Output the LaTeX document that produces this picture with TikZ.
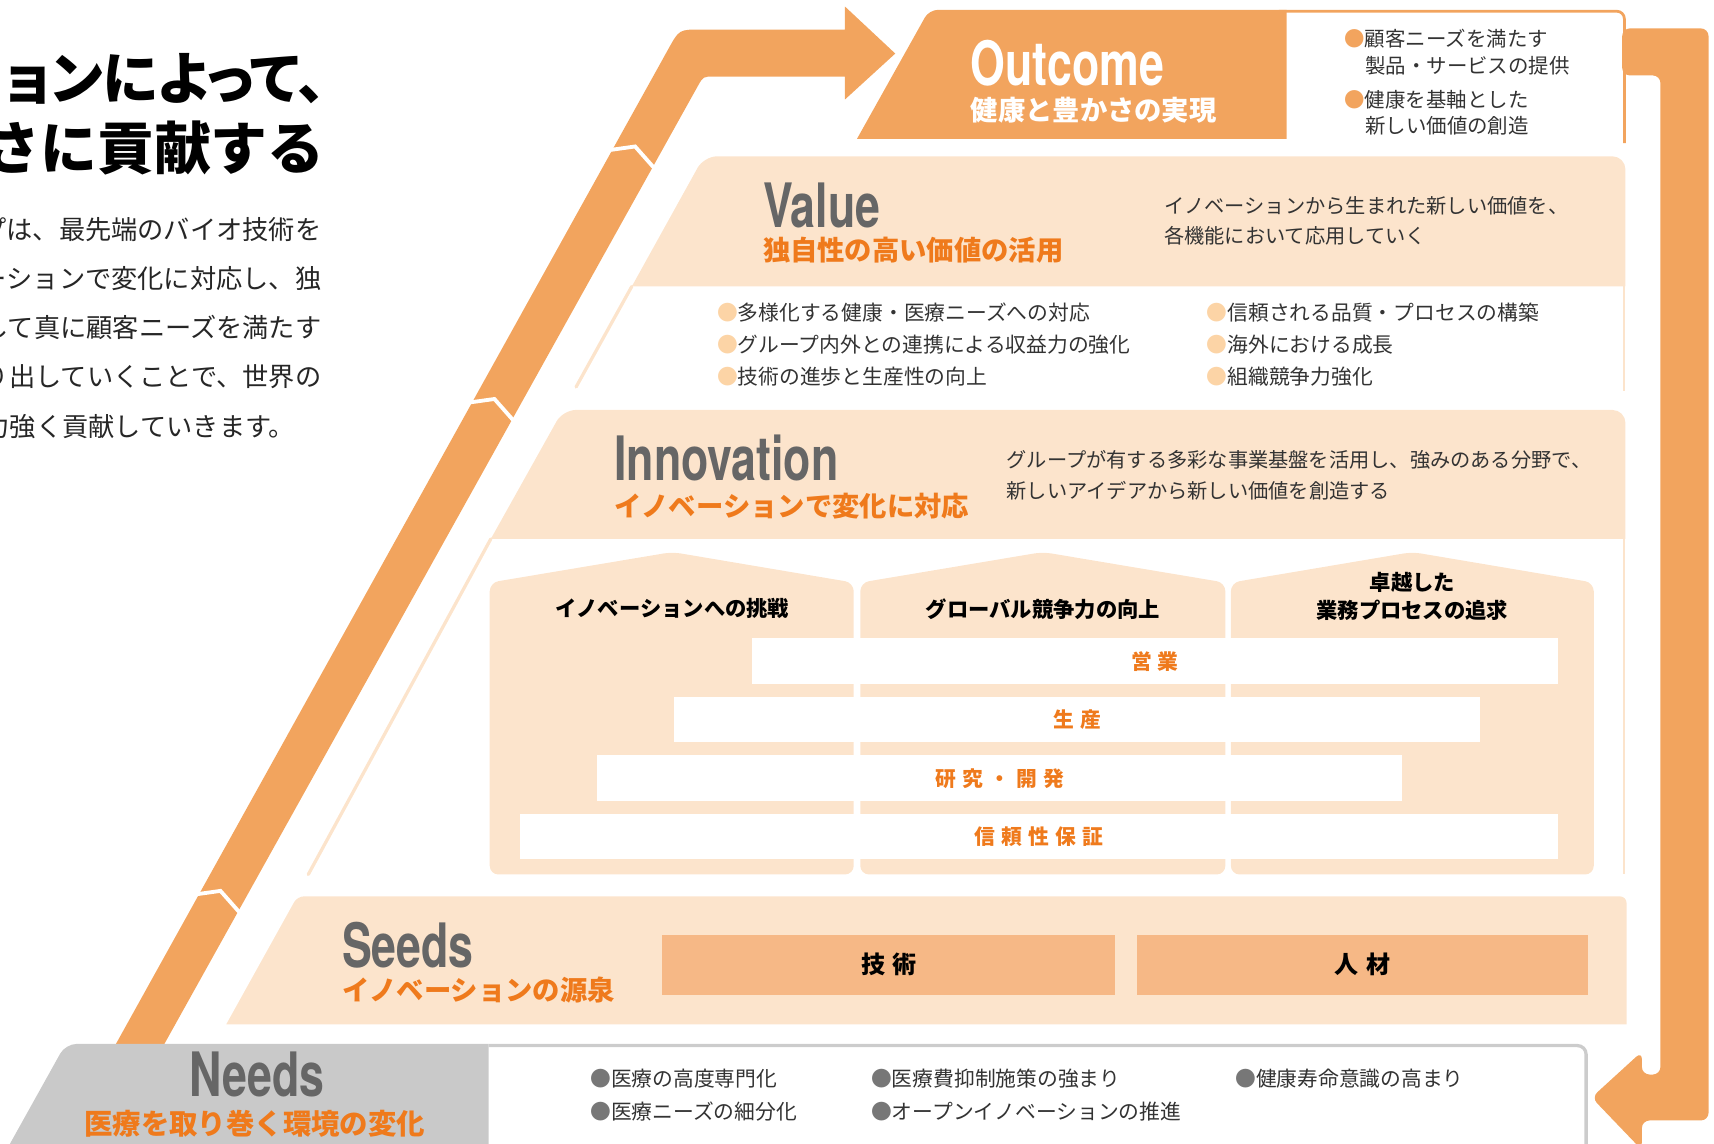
\documentclass[tikz,border=0pt]{standalone}
\usepackage{fontspec}
\setmainfont{Noto Sans CJK JP}
\newfontfamily\jpprop[RawFeature=+palt]{Noto Sans CJK JP}
\newfontfamily\jpwide[LetterSpace=30]{Noto Sans CJK JP}
\newfontfamily\headfont[FakeStretch=0.73]{TeX Gyre Heros}
\usetikzlibrary{positioning}

\definecolor{bandorange}{HTML}{F2A45E}
\definecolor{peach}{HTML}{FCE4CC}
\definecolor{seedfill}{HTML}{F6B886}
\definecolor{suborange}{HTML}{EF7A1C}
\definecolor{headgray}{HTML}{666666}
\definecolor{needfill}{HTML}{C9C9C9}
\definecolor{needline}{HTML}{CCCCCC}
\definecolor{dotpeach}{HTML}{FCD4A6}
\definecolor{dotgray}{HTML}{777777}
\definecolor{inktext}{HTML}{333333}

\newcommand{\setfs}[2]{\fontsize{#1}{#2}\selectfont}

\begin{document}
\begin{tikzpicture}[x=1pt,y=-1pt,inner sep=0pt,outer sep=0pt]
  \tikzstyle{head}=[anchor=base west,font=\headfont\bfseries\setfs{56}{56},text=headgray]
  \tikzstyle{sub}=[anchor=west,font=\bfseries\setfs{25}{25},text=suborange]
  \tikzstyle{desc}=[anchor=west,align=left,font=\setfs{18.5}{28},text=inktext]
  \tikzstyle{item}=[anchor=west,font=\setfs{19}{19},text=inktext]
  \tikzstyle{lead}=[anchor=east,font=\setfs{24}{24},text=black!85]
  \tikzstyle{pillar}=[fill=peach,rounded corners=8pt]
  \tikzstyle{pillartitle}=[align=center,font=\bfseries\setfs{19.5}{25}]
  \tikzstyle{bar}=[fill=white,font=\jpwide\bfseries\setfs{19}{19},text=suborange]
  \tikzstyle{seedbox}=[fill=seedfill,font=\jpwide\bfseries\setfs{22}{22},minimum height=55pt]
  \tikzstyle{notch}=[draw=white,line width=3.5pt]

  \clip (0,0) rectangle (1568,1046);

  % lead text on the left
  \node[anchor=east,font=\jpprop\bfseries\setfs{52}{52}] (title1) at (298,72) {ョンによって、};
  \node[anchor=east,font=\bfseries\setfs{52}{52}] (title2) at (297,135) {さに貢献する};
  \node[lead] (lead1) at (294,210) {プは、最先端のバイオ技術を};
  \node[lead] (lead2) at (294,255) {ーションで変化に対応し、独};
  \node[lead] (lead3) at (294,300) {して真に顧客ニーズを満たす};
  \node[lead] (lead4) at (294,345) {創り出していくことで、世界の};
  \node[lead] (lead5) at (270,390) {力強く貢献していきます。};

  % big arrow: Needs -> Outcome
  \fill[bandorange] (104.4,958) -- (611.6,44.5) .. controls (621.3,27) .. (641.3,27)
    -- (773,27) -- (773,6) -- (819,49) -- (773,91) -- (773,70) -- (653.3,70)
    .. controls (643.3,70) .. (638.4,78.7) -- (148.7,958) -- cycle;
  \draw[notch] (556,137.5) -- (581,134) -- (601,156.6);
  \draw[notch] (427.3,368.5) -- (452.3,365) -- (472.3,387.6);
  \draw[notch] (176.7,818.5) -- (201.7,815) -- (221.7,837.6);

  % arrow back down: Outcome -> Needs
  \fill[bandorange,rounded corners=7pt] (1484,26) -- (1563,26) -- (1563,1025) -- (1502,1025)
    -- (1502,1052) -- (1456,1004) -- (1502,962) -- (1502,983) -- (1519,983)
    -- (1519,69) -- (1484,69) -- cycle;

  % Outcome
  \draw[bandorange,line width=2.5pt,rounded corners=7pt] (1170,10.25) -- (1486,10.25) -- (1486,131);
  \fill[bandorange] (1177,127) -- (784,127) [rounded corners=8pt] -- (850,9) [sharp corners] -- (1177,9) -- cycle;
  \node[head,text=white] (outcome) at (888,78) {Outcome};
  \node[sub,text=white] (outcomesub) at (888,101) {健康と豊かさの実現};
  \node[item,font=\setfs{18.7}{18.7}] (o1) at (1230,35) {\textcolor{bandorange}{●}顧客ニーズを満たす};
  \node[item,font=\setfs{18.7}{18.7}] (o2) at (1249,60) {製品・サービスの提供};
  \node[item,font=\setfs{18.7}{18.7}] (o3) at (1230,91) {\textcolor{bandorange}{●}健康を基軸とした};
  \node[item,font=\setfs{18.7}{18.7}] (o4) at (1249,115) {新しい価値の創造};

  % Value
  \fill[peach] (1487,262) -- (578,262) [rounded corners=12pt] -- (644,143) -- (1487,143) [sharp corners] -- cycle;
  \draw[peach,line width=3pt,line cap=round] (578,262) -- (527,354);
  \draw[peach,line width=2pt] (1486,262) -- (1486,358);
  \node[head] (value) at (698,208) {Value};
  \node[sub] (valuesub) at (698,228.5) {独自性の高い価値の活用};
  \node[desc] (valuedesc) at (1065,202) {イノベーションから生まれた新しい価値を、\\各機能において応用していく};
  \node[item] (v1) at (656,286) {\textcolor{dotpeach}{●}多様化する健康・医療ニーズへの対応};
  \node[item] (v2) at (656,315) {\textcolor{dotpeach}{●}グループ内外との連携による収益力の強化};
  \node[item] (v3) at (656,345) {\textcolor{dotpeach}{●}技術の進歩と生産性の向上};
  \node[item] (v4) at (1104,286) {\textcolor{dotpeach}{●}信頼される品質・プロセスの構築};
  \node[item] (v5) at (1104,315) {\textcolor{dotpeach}{●}海外における成長};
  \node[item] (v6) at (1104,345) {\textcolor{dotpeach}{●}組織競争力強化};

  % Innovation
  \fill[peach] (1487,493) -- (449,493) [rounded corners=12pt] -- (515,375) -- (1487,375) [sharp corners] -- cycle;
  \draw[peach,line width=3pt,line cap=round] (449,493) -- (282,800);
  \draw[peach,line width=2pt] (1486,493) -- (1486,800);
  \node[head] (innovation) at (562,440) {Innovation};
  \node[sub] (innovationsub) at (562,463) {イノベーションで変化に対応};
  \node[desc] (innovationdesc) at (921,435) {グループが有する多彩な事業基盤を活用し、強みのある分野で、\\新しいアイデアから新しい価値を創造する};

  \fill[pillar] (448,800) -- (448,533) -- (615,505) -- (781,533) -- (781,800) -- cycle;
  \fill[pillar] (787,800) -- (787,533) -- (954,505) -- (1121,533) -- (1121,800) -- cycle;
  \fill[pillar] (1126,800) -- (1126,533) -- (1292,505) -- (1458,533) -- (1458,800) -- cycle;
  \node[pillartitle] (challenge) at (615,557) {イノベーションへの挑戦};
  \node[pillartitle] (global) at (954,557) {グローバル競争力の向上};
  \node[pillartitle] (process) at (1292,545.5) {卓越した\\業務プロセスの追求};

  \node[bar,minimum width=737pt,minimum height=42pt] (sales) at (1056.5,605) {営業};
  \node[bar,minimum width=737pt,minimum height=41pt] (production) at (985.5,658.5) {生産};
  \node[bar,minimum width=737pt,minimum height=42pt] (research) at (914.5,712) {研究・開発};
  \node[bar,minimum width=949pt,minimum height=41pt] (quality) at (950.5,765.5) {信頼性保証};

  % Seeds
  \fill[peach] (1488,937) -- (207,937) [rounded corners=6pt] -- (272,820) -- (1488,820) [sharp corners] -- cycle;
  \node[head] (seeds) at (313,885) {Seeds};
  \node[sub] (seedssub) at (313,906) {イノベーションの源泉};
  \node[seedbox,minimum width=414pt] (tech) at (813,882.5) {技術};
  \node[seedbox,minimum width=413pt] (people) at (1246.5,882.5) {人材};

  % Needs
  \fill[needfill] (447,1060) -- (1.5,1060) [rounded corners=10pt] -- (60,955) [sharp corners] -- (447,955) -- cycle;
  \draw[needline,line width=3pt,rounded corners=8pt] (447,956.5) -- (1451,956.5) -- (1451,1060);
  \node[head,anchor=base] (needs) at (235,1003) {Needs};
  \node[sub,anchor=center,font=\bfseries\setfs{26}{26}] (needssub) at (233,1028) {医療を取り巻く環境の変化};
  \node[item] (n1) at (540,987) {\textcolor{dotgray}{●}医療の高度専門化};
  \node[item] (n2) at (540,1017) {\textcolor{dotgray}{●}医療ニーズの細分化};
  \node[item] (n3) at (797,987) {\textcolor{dotgray}{●}医療費抑制施策の強まり};
  \node[item] (n4) at (797,1017) {\textcolor{dotgray}{●}オープンイノベーションの推進};
  \node[item] (n5) at (1130,987) {\textcolor{dotgray}{●}健康寿命意識の高まり};
\end{tikzpicture}
\end{document}
